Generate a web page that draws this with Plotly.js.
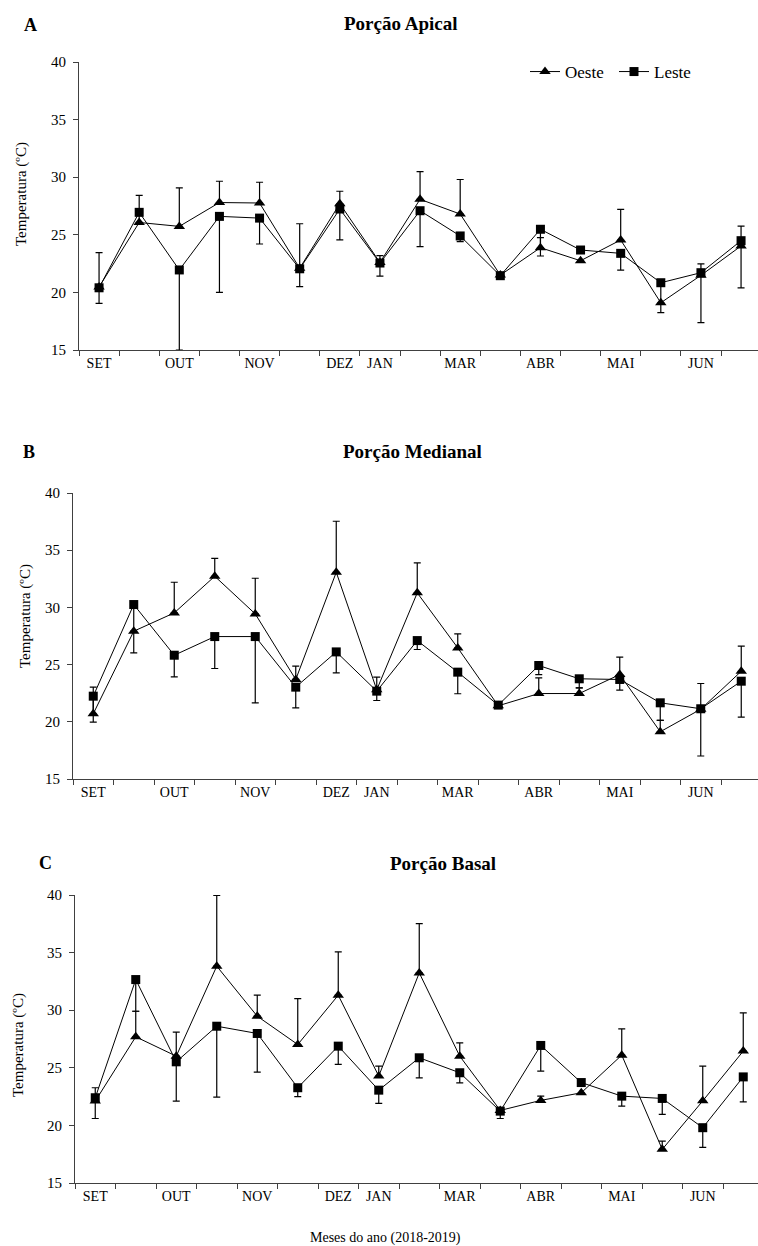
<!DOCTYPE html>
<html><head><meta charset="utf-8">
<script src="https://cdn.plot.ly/plotly-3.0.1.min.js"></script>
<style>html,body{margin:0;padding:0;background:#fff}#chart{width:758px;height:1246px}</style>
</head><body><div id="chart"></div>
<script>
// Month tick labels and the sample index they sit under
const monthLabels = ['SET','OUT','NOV','DEZ','JAN','MAR','ABR','MAI','JUN'];
const monthAt = [0, 2, 4, 6, 7, 9, 11, 13, 15];

// Porção Apical
const oesteA     = [20.47,26.07,25.73,27.8,27.76,22.1,27.7,22.6,28.08,26.8,21.5,23.88,22.75,24.55,19.1,21.48,24.03];
const oesteAPlus = [2.98,2.36,3.34,1.85,1.8,3.86,1.08,0.59,2.4,3.0,0,0.87,0,2.65,0,0.99,1.73];
const lesteA     = [20.4,26.95,21.95,26.6,26.45,22.05,27.24,22.55,27.09,24.9,21.45,25.48,23.68,23.39,20.84,21.71,24.49];
const lesteAMinus= [1.36,0,6.95,6.6,2.25,1.55,2.68,1.13,3.12,0.5,0,2.32,0,1.45,2.6,4.34,4.09];

// Porção Medianal
const oesteB     = [20.7,27.92,29.52,32.72,29.43,23.7,33.07,22.8,31.27,26.46,21.4,22.47,22.47,24.13,19.13,21.1,24.42];
const oesteBPlus = [2.33,0,2.68,1.57,3.12,1.16,4.46,1.1,2.62,1.23,0,1.37,0.5,1.52,0.99,2.25,2.19];
const lesteB     = [22.24,30.25,25.82,27.45,27.45,23.03,26.11,22.68,27.1,24.34,21.46,24.92,23.76,23.7,21.66,21.14,23.55];
const lesteBMinus= [2.27,4.22,1.89,2.79,5.79,1.81,1.83,0.82,0.78,1.89,0,0.79,0.8,0.93,1.54,4.13,3.14];

// Porção Basal
const oesteC     = [22.11,27.69,26.01,33.82,29.48,27.02,31.3,24.28,33.24,26.01,21.3,22.17,22.83,26.1,17.92,22.13,26.45];
const oesteCPlus = [1.16,2.22,2.08,6.15,1.82,3.99,3.76,0.86,4.27,1.16,0,0.37,0,2.28,0.72,3.01,3.32];
const lesteC     = [22.4,32.66,25.52,28.61,27.98,23.27,26.88,23.06,25.87,24.57,21.24,26.94,23.72,22.54,22.34,19.8,24.21];
const lesteCMinus= [1.8,2.75,3.41,6.15,3.36,0.78,1.59,1.15,1.74,0.87,0.64,2.23,0,0.87,1.39,1.71,2.16];

const W = 758, H = 1246;
const FONT = 'Liberation Serif, Times New Roman, serif';
const AX = '#404040';
const px = p => p / W;
const py = p => 1 - p / H;

const panels = [
  {o: oesteA, oP: oesteAPlus, l: lesteA, lM: lesteAMinus, top: 62,  bottom: 350,  left: 79, step: 40.125,
   letter: 'A', lx: 30, ly: 25, title: 'Porção Apical', tx: 400, ty: 24, ytx: 21, yty: 194},
  {o: oesteB, oP: oesteBPlus, l: lesteB, lM: lesteBMinus, top: 493, bottom: 779,  left: 73, step: 40.5,
   letter: 'B', lx: 29, ly: 452, title: 'Porção Medianal', tx: 412, ty: 452, ytx: 25, yty: 616},
  {o: oesteC, oP: oesteCPlus, l: lesteC, lM: lesteCMinus, top: 895, bottom: 1183, left: 75, step: 40.5,
   letter: 'C', lx: 45, ly: 863, title: 'Porção Basal', tx: 443, ty: 863, ytx: 18, yty: 1045}
];

const traces = [];
const layout = {
  width: W, height: H,
  margin: {l: 0, r: 0, t: 0, b: 0, autoexpand: false},
  paper_bgcolor: '#fff', plot_bgcolor: '#fff',
  font: {family: FONT, color: '#000'},
  showlegend: true,
  legend: {orientation: 'h', x: px(525), xanchor: 'left', y: py(72), yanchor: 'middle',
           font: {family: FONT, size: 17, color: '#000'}, entrywidth: 44, entrywidthmode: 'pixels',
           bgcolor: 'rgba(0,0,0,0)', borderwidth: 0, tracegroupgap: 0},
  annotations: [],
};

panels.forEach((p, i) => {
  const n = i === 0 ? '' : String(i + 1);
  const xs = p.o.map((_, k) => k);
  const zeros = p.o.map(() => 0);
  traces.push({
    type: 'scatter', mode: 'lines+markers', name: 'Oeste', legendgroup: 'o', showlegend: i === 0,
    x: xs, y: p.o, xaxis: 'x' + n, yaxis: 'y' + n,
    line: {color: '#000', width: 1},
    marker: {symbol: 'triangle-up', size: 10, color: '#000'},
    error_y: {type: 'data', symmetric: false, array: p.oP, arrayminus: zeros, color: '#000', thickness: 1.2, width: 3.5},
    cliponaxis: true
  });
  traces.push({
    type: 'scatter', mode: 'lines+markers', name: 'Leste', legendgroup: 'l', showlegend: i === 0,
    x: xs, y: p.l, xaxis: 'x' + n, yaxis: 'y' + n,
    line: {color: '#000', width: 1},
    marker: {symbol: 'square', size: 9, color: '#000'},
    error_y: {type: 'data', symmetric: false, array: zeros, arrayminus: p.lM, color: '#000', thickness: 1.2, width: 3.5},
    cliponaxis: true
  });
  layout['xaxis' + n] = {
    domain: [px(p.left), 1], range: [-0.5, -0.5 + (W - p.left) / p.step],
    anchor: 'y' + n, tickmode: 'array', tickvals: monthAt, ticktext: monthLabels, ticks: '',
    showline: true, linecolor: AX, linewidth: 1, showgrid: false, zeroline: false, automargin: false,
    minor: {tickmode: 'linear', tick0: -0.5, dtick: 1, ticks: 'outside', ticklen: 5, tickcolor: AX, tickwidth: 1, showgrid: false},
    tickfont: {family: FONT, size: 14, color: '#000'}, fixedrange: true
  };
  layout['yaxis' + n] = {
    domain: [py(p.bottom), py(p.top)], range: [15, 40], tickmode: 'linear', tick0: 15, dtick: 5,
    anchor: 'x' + n, ticks: 'outside', ticklen: 5, tickcolor: AX, tickwidth: 1, automargin: false,
    showline: true, linecolor: AX, linewidth: 1, showgrid: false, zeroline: false,
    ticklabelstandoff: 4,
    tickfont: {family: FONT, size: 15, color: '#000'}, fixedrange: true
  };
  layout.annotations.push(
    {xref: 'paper', yref: 'paper', x: px(p.lx), y: py(p.ly), text: '<b>' + p.letter + '</b>', showarrow: false,
     xanchor: 'center', yanchor: 'middle', font: {family: FONT, size: 18, color: '#000'}},
    {xref: 'paper', yref: 'paper', x: px(p.tx), y: py(p.ty), text: '<b>' + p.title + '</b>', showarrow: false,
     xanchor: 'center', yanchor: 'middle', font: {family: FONT, size: 19, color: '#000'}},
    {xref: 'paper', yref: 'paper', x: px(p.ytx), y: py(p.yty), text: 'Temperatura (ºC)', showarrow: false, textangle: -90,
     xanchor: 'center', yanchor: 'middle', font: {family: FONT, size: 15, color: '#000'}}
  );
});

layout.annotations.push({xref: 'paper', yref: 'paper', x: px(385), y: py(1238), text: 'Meses do ano (2018-2019)',
  showarrow: false, xanchor: 'center', yanchor: 'middle', font: {family: FONT, size: 14, color: '#000'}});

Plotly.newPlot('chart', traces, layout, {displayModeBar: false, staticPlot: true});
</script>
</body></html>
